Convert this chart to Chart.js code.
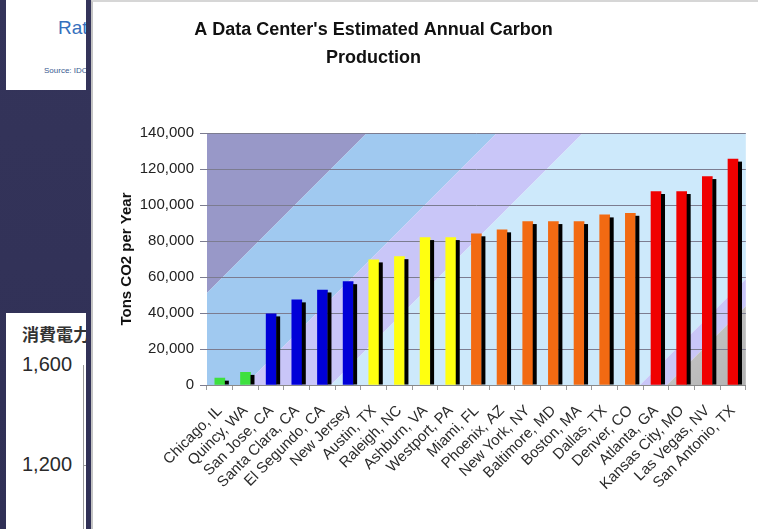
<!DOCTYPE html>
<html>
<head>
<meta charset="utf-8">
<script src="https://cdn.jsdelivr.net/npm/chart.js@4.4.1/dist/chart.umd.min.js"></script>
<style>
  html, body { margin: 0; padding: 0; }
  body {
    width: 758px; height: 529px; overflow: hidden; position: relative;
    background: linear-gradient(180deg, #34345a 0%, #303056 100%);
    font-family: "Liberation Sans", Arial, sans-serif;
  }
  .slide-box { position: absolute; background: #fff; overflow: hidden; }
  .slide-box div { position: absolute; white-space: nowrap; }
  #panel {
    position: absolute; left: 91px; top: 0; width: 665px; height: 527px;
    background: #fff; border-left: 2px solid #c4c4c4; border-top: 2px solid #d6d6d6;
  }
  #chart { position: absolute; left: 0; top: 0; }
</style>
</head>
<body>
  <div class="slide-box" style="left:6px;top:0;width:80px;height:90px;">
    <div style="left:52px;top:17px;font-size:19px;color:#3570bd;">Rate</div>
    <div style="left:38px;top:66px;font-size:8px;color:#3a5a90;">Source: IDC</div>
  </div>
  <div class="slide-box" style="left:6px;top:313px;width:80px;height:216px;">
    <div style="left:16px;top:8px;font-size:17px;font-weight:bold;color:#333;font-family:'Noto Sans CJK JP',sans-serif;">消費電力量</div>
    <div style="left:16px;top:40px;font-size:20px;color:#2a2a2a;">1,600</div>
    <div style="left:16px;top:140px;font-size:20px;color:#2a2a2a;">1,200</div>
    <div style="left:77px;top:52px;width:1px;height:170px;background:#9a9a9a;"></div>
    <div style="left:77px;top:152px;width:4px;height:1px;background:#9a9a9a;"></div>
  </div>
  <div id="panel"><canvas id="chart" width="665" height="527"></canvas></div>

<script>
// Estimated annual CO2 output of one data center, by location
const cities = [
  'Chicago, IL', 'Quincy, WA', 'San Jose, CA', 'Santa Clara, CA', 'El Segundo, CA',
  'New Jersey', 'Austin, TX', 'Raleigh, NC', 'Ashburn, VA', 'Westport, PA',
  'Miami, FL', 'Phoenix, AZ', 'New York, NY', 'Baltimore, MD', 'Boston, MA',
  'Dallas, TX', 'Denver, CO', 'Atlanta, GA', 'Kansas City, MO', 'Las Vegas, NV',
  'San Antonio, TX'
];
const tonsCO2 = [
  3800, 7000, 39500, 47300, 52800,
  57400, 69500, 71300, 81900, 81900,
  84000, 86200, 90800, 90800, 90800,
  94500, 95400, 107500, 107500, 115800,
  125500
];
const yAxisMin = 0;
const yAxisMax = 140000;
const yAxisStep = 20000;
const titleLines = ["A Data Center's Estimated Annual Carbon", 'Production'];
const yAxisTitle = 'Tons CO2 per Year';

// colour tiers, low to high emission
const tierColors = { green: '#3ee03e', blue: '#0000d8', yellow: '#ffff10', orange: '#f26a12', red: '#f00000' };
const tierSizes = [['green', 2], ['blue', 4], ['yellow', 4], ['orange', 7], ['red', 4]];
const barColors = tierSizes.flatMap(([c, n]) => Array(n).fill(tierColors[c]));

// diagonal colour bands painted behind the plot
const bandPlugin = {
  id: 'bands',
  beforeDraw(chart) {
    const { ctx, chartArea: a } = chart;
    const big = 3000;
    const bands = [
      [-big, 160, '#9898c8'],
      [160, 290, '#a0c9f0'],
      [290, 376, '#c9c6f8'],
      [376, 685, '#cde9fb'],
      [685, 712, '#c9c6f8'],
    ];
    ctx.save();
    ctx.beginPath();
    ctx.rect(a.left, a.top, a.right - a.left, a.bottom - a.top);
    ctx.clip();
    const poly = (d1, d2) => {
      ctx.beginPath();
      ctx.moveTo(a.left + d1, a.top);
      ctx.lineTo(a.left + d2, a.top);
      ctx.lineTo(a.left + d2 - big, a.top + big);
      ctx.lineTo(a.left + d1 - big, a.top + big);
      ctx.closePath();
    };
    bands.forEach(([d1, d2, c]) => { poly(d1, d2); ctx.fillStyle = c; ctx.fill(); });
    const g = ctx.createLinearGradient(a.right - 70, a.bottom - 70, a.right, a.bottom);
    g.addColorStop(0, '#cacaca');
    g.addColorStop(1, '#b2b2b2');
    poly(712, big);
    ctx.fillStyle = g;
    ctx.fill();
    ctx.restore();
  }
};

// dark side face on each bar for a 3-D look
const depthPlugin = {
  id: 'depth',
  afterDatasetsDraw(chart) {
    const { ctx } = chart;
    const meta = chart.getDatasetMeta(0);
    ctx.save();
    ctx.fillStyle = '#000';
    meta.data.forEach(bar => {
      const { x, y, base, width } = bar.getProps(['x', 'y', 'base', 'width'], true);
      const top = y + 2.5;
      ctx.fillRect(x + width / 2, top, 4, base - top);
    });
    ctx.restore();
  }
};

// two-line heading
const headingPlugin = {
  id: 'heading',
  afterDraw(chart) {
    const { ctx } = chart;
    ctx.save();
    ctx.font = 'bold 18px "Liberation Sans", Arial, sans-serif';
    ctx.fillStyle = '#111';
    ctx.textAlign = 'center';
    ctx.textBaseline = 'middle';
    titleLines.forEach((t, i) => ctx.fillText(t, 280.5, 28 + i * 28));
    ctx.restore();
  }
};

new Chart(document.getElementById('chart'), {
  type: 'bar',
  data: {
    labels: cities,
    datasets: [{
      data: tonsCO2,
      backgroundColor: barColors,
      borderWidth: 0,
      barThickness: 10,
    }]
  },
  options: {
    responsive: false,
    animation: false,
    layout: { padding: { top: 131, right: 12, left: 25, bottom: 0 } },
    plugins: { legend: { display: false }, tooltip: { enabled: false }, title: { display: false } },
    scales: {
      x: {
        grid: { display: true, drawOnChartArea: false, drawTicks: true, tickLength: 5, color: '#9a9a9a' },
        border: { display: true, color: '#8a8a8a' },
        ticks: {
          autoSkip: false, maxRotation: 45, minRotation: 45, padding: 12,
          color: '#2a2a2a', font: { family: '"Liberation Sans", Arial, sans-serif', size: 15 }
        },
        afterFit(scale) { scale.height = 144; }
      },
      y: {
        min: yAxisMin, max: yAxisMax,
        grid: { color: '#7c7c90', lineWidth: 1, tickLength: 7, drawTicks: true },
        border: { display: false },
        ticks: {
          stepSize: yAxisStep, padding: 6, color: '#222',
          font: { family: '"Liberation Sans", Arial, sans-serif', size: 15 }
        },
        title: {
          display: true, text: yAxisTitle, color: '#111', padding: 0,
          font: { family: '"Liberation Sans", Arial, sans-serif', size: 15, weight: 'bold' }
        },
        afterFit(scale) { scale.width = 89; }
      }
    }
  },
  plugins: [bandPlugin, depthPlugin, headingPlugin]
});
</script>
</body>
</html>
